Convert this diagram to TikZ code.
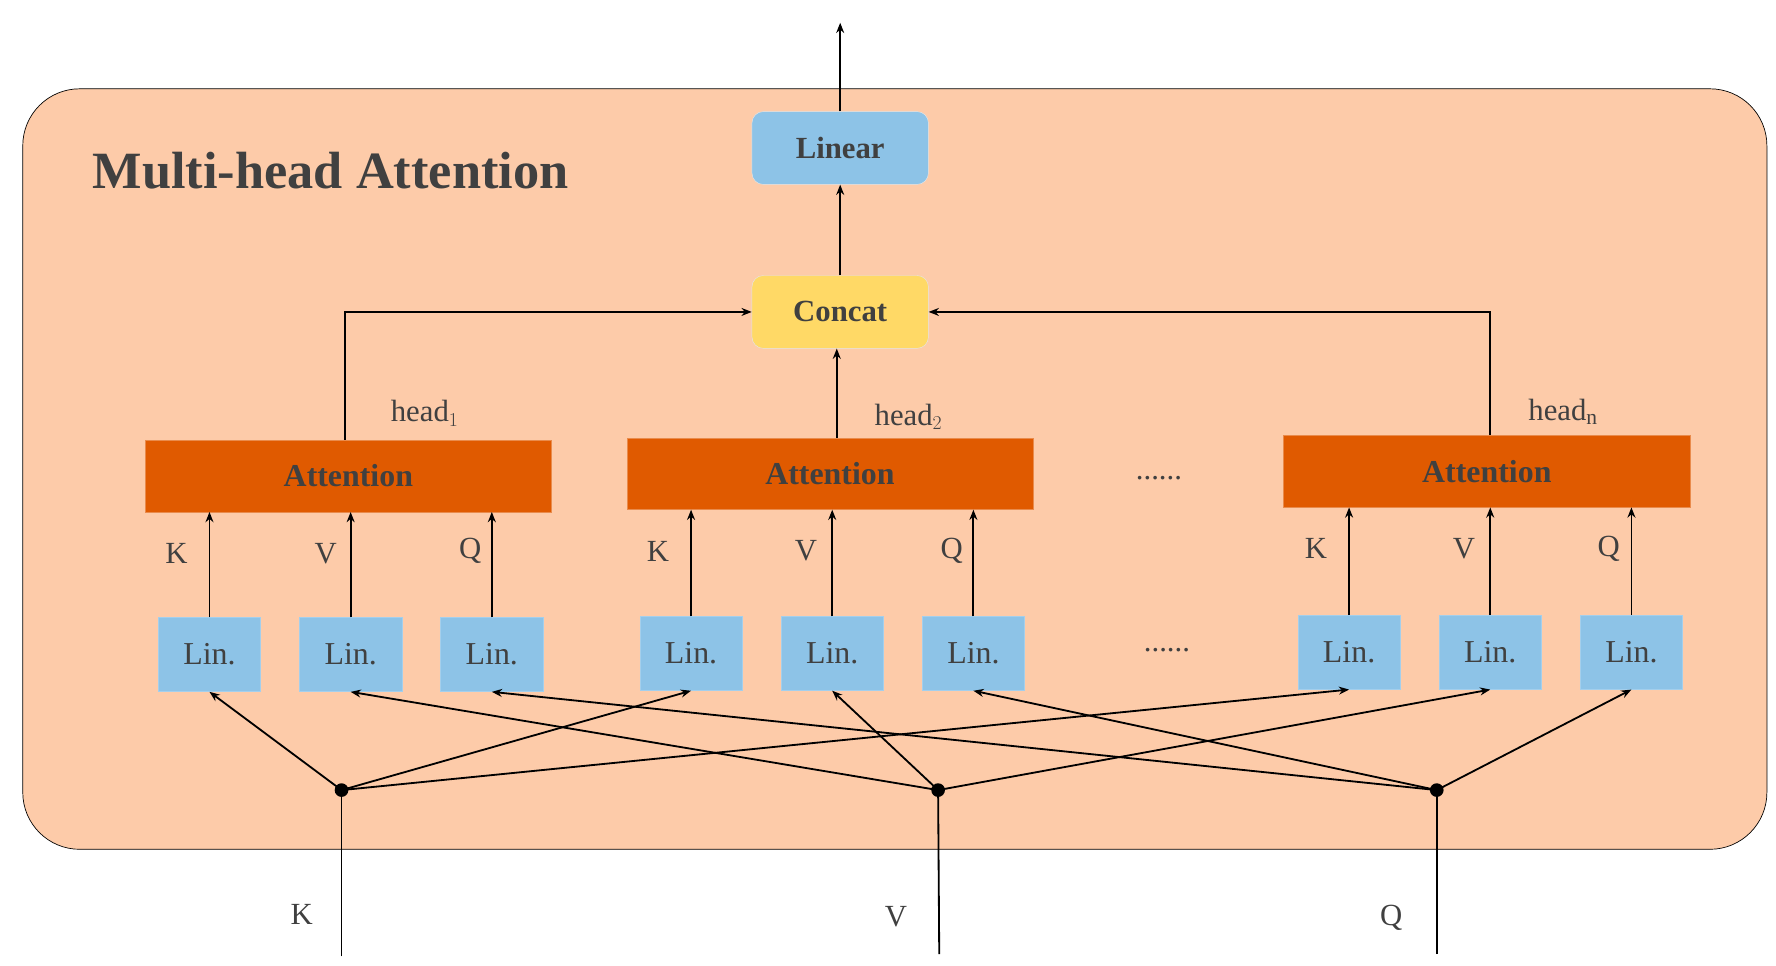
\documentclass[tikz,border=0pt]{standalone}
\usepackage{fontspec}
\setmainfont{Liberation Serif}
\usetikzlibrary{arrows.meta}
\definecolor{bg}{HTML}{FDCBA9}
\definecolor{lblue}{HTML}{8DC3E7}
\definecolor{yel}{HTML}{FFD966}
\definecolor{att}{HTML}{E05A00}
\definecolor{txt}{HTML}{404040}
\begin{document}
\begin{tikzpicture}[x=1pt,y=-1pt,
  arr/.style={-{Stealth[length=9pt,width=7pt]},line width=1.6pt},
  ln/.style={line width=1.6pt},
  lin/.style={draw=lblue!80!white,fill=lblue,minimum width=90pt,minimum height=65pt,inner sep=0pt,font=\fontsize{28}{30}\selectfont,text=txt},
  attb/.style={draw=att!70!white,fill=att,minimum width=357pt,minimum height=63pt,inner sep=0pt,font=\fontsize{28}{30}\selectfont\bfseries,text=txt},
  top/.style={draw=white!80!gray,rounded corners=10pt,minimum width=155pt,minimum height=64pt,inner sep=0pt,font=\fontsize{27}{30}\selectfont\bfseries,text=txt},
  lab/.style={font=\fontsize{27}{30}\selectfont,text=txt},
  dot/.style={circle,fill=black,inner sep=0pt,minimum size=12pt}]
\useasboundingbox (0,0) rectangle (1560,848.5);
\draw[fill=bg,rounded corners=50pt,line width=0.6pt] (20,78) rectangle (1552,746);
\node[anchor=base west,font=\fontsize{46}{50}\selectfont\bfseries,text=txt] (title) at (78,166) {Multi-head Attention};
\node[top,fill=lblue] (linear) at (738,130) {Linear};
\node[top,fill=yel] (concat) at (738,274) {Concat};
\coordinate (out) at (738,20);
\draw[arr] (linear.north) -- (out);
\draw[arr] (concat.north) -- (linear.south);
\node[attb] (a1) at (306,418) {Attention};
\node[attb] (a2) at (729,416) {Attention};
\node[attb] (a3) at (1306,414) {Attention};
\node[lab] (h1) at (373,363) {head$_1$};
\node[lab] (h2) at (798,366) {head$_2$};
\node[lab] (h3) at (1373,362) {head$_\mathrm{n}$};
\draw[arr] (a1.north -| 303,0) |- (concat.west);
\draw[arr] (a3.north -| 1309,0) |- (concat.east);
\draw[arr] (a2.north -| 735,0) -- (concat.south -| 735,0);
\node[lab] (d1) at (1018,420) {......};
\node[lab] (d2) at (1025,571) {......};
\foreach \n/\x/\y in {1/184/575,2/308/575,3/432/575,4/607/574,5/731/574,6/855/574,7/1185/573,8/1309/573,9/1433/573}
  \node[lin] (l\n) at (\x,\y) {Lin.};
\foreach \n/\a in {1/a1,2/a1,3/a1,4/a2,5/a2,6/a2,7/a3,8/a3,9/a3}
  \draw[arr] (l\n.north) -- (l\n.north |- \a.south);
\foreach \t/\x/\y in {K/155/486,V/286/486,Q/413/484,K/578/484,V/708/484,Q/836/484,K/1156/482,V/1286/482,Q/1413/482}
  \node[lab] at (\x,\y) {\t};
\node[dot] (dk) at (300,694) {};
\node[dot] (dv) at (824,694) {};
\node[dot] (dq) at (1262,694) {};
\coordinate (ik) at (300,840);
\coordinate (iv) at (825,838);
\coordinate (iq) at (1262,838);
\draw[ln] (ik) -- (dk.center); \draw[ln] (iv) -- (dv.center); \draw[ln] (iq) -- (dq.center);
\node[lab] (lk) at (265,803) {K};
\node[lab] (lv) at (787,805) {V};
\node[lab] (lq) at (1222,806) {Q};
\foreach \d/\a/\b/\c in {dk/1/4/7,dv/2/5/8,dq/3/6/9}{
  \draw[arr] (\d.center) -- (l\a.south);
  \draw[arr] (\d.center) -- (l\b.south);
  \draw[arr] (\d.center) -- (l\c.south);}
\end{tikzpicture}
\end{document}
